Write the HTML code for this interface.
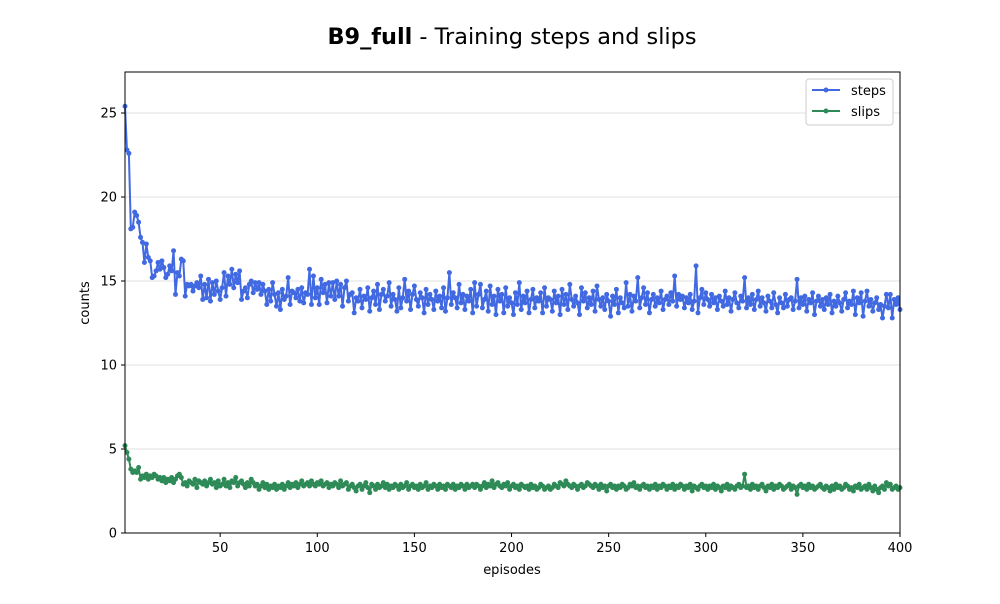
<!DOCTYPE html>
<html><head><meta charset="utf-8"><style>
body{margin:0;background:#fff;font-family:"DejaVu Sans",sans-serif}
svg text{font-family:"DejaVu Sans",sans-serif}
</style></head><body>
<svg id="chart" width="1000" height="600" xmlns="http://www.w3.org/2000/svg">
<text x="512" y="44" text-anchor="middle" font-size="22.4"><tspan font-weight="bold">B9_full</tspan> - Training steps and slips</text>
<g id="grid"></g><g id="series"></g><g id="axes"></g>
<text x="512" y="574" text-anchor="middle" font-size="13">episodes</text>
<text transform="translate(89,303) rotate(-90)" text-anchor="middle" font-size="13">counts</text>
<g>
<rect x="806" y="79" width="87" height="46" fill="#fff" stroke="#ccc" rx="3"/>
<g><line x1="812" y1="90" x2="840" y2="90" stroke="#4169e1" stroke-width="2"/><circle cx="826" cy="90" r="2.5" fill="#4169e1"/><text x="851" y="95" font-size="13">steps</text></g>
<g><line x1="812" y1="111" x2="840" y2="111" stroke="#2e8b57" stroke-width="2"/><circle cx="826" cy="111" r="2.5" fill="#2e8b57"/><text x="851" y="116" font-size="13">slips</text></g>
</g>
</svg>
<script>
const steps=[25.4,22.8,22.6,18.1,18.2,19.1,18.9,18.5,17.6,17.3,16.1,17.2,16.4,16.2,15.2,15.3,15.6,16.1,15.7,16.2,
15.8,15.2,15.4,15.9,15.6,16.8,14.2,15.5,15.3,16.3,16.2,14.1,14.8,14.7,14.8,14.4,14.7,14.9,14.6,15.3,
13.9,14.8,14.0,15.1,13.8,14.9,14.2,15.0,14.4,13.9,14.6,15.5,14.1,15.3,14.8,15.7,14.6,15.4,14.9,15.6,
13.9,14.4,14.6,14.0,14.8,15.0,14.3,14.9,14.5,14.9,14.2,14.8,14.4,13.6,14.5,13.8,14.9,14.2,13.5,14.3,
13.3,14.5,13.9,14.1,15.2,13.6,14.4,14.3,14.0,14.5,13.8,14.6,13.7,14.3,14.2,15.7,13.6,15.3,14.0,14.6,
13.6,15.1,14.3,14.8,13.7,14.9,14.1,14.9,13.9,15.0,14.1,14.8,13.5,14.6,15.0,13.8,14.2,14.3,13.1,14.0,
13.8,14.5,13.4,14.1,13.9,14.6,13.2,14.0,14.4,13.6,14.8,13.3,14.2,14.5,13.8,14.1,14.9,13.5,14.2,13.9,
13.2,14.6,13.4,14.0,15.1,13.8,14.4,13.3,14.2,14.7,13.9,13.5,14.3,14.0,13.1,14.5,13.6,14.2,13.9,13.3,
14.4,13.8,14.1,13.4,14.6,13.2,14.0,15.5,13.6,14.3,14.0,13.4,14.8,13.7,14.2,13.3,14.1,13.8,14.5,13.1,
14.9,13.5,14.2,14.8,13.4,13.9,14.4,13.2,14.7,13.6,14.1,13.0,14.5,13.8,14.2,13.1,14.6,13.5,14.0,13.7,
13.0,14.3,13.6,14.9,13.3,14.1,13.7,14.4,13.1,13.9,14.5,13.4,14.0,13.8,14.3,13.1,14.6,13.5,14.0,13.9,
13.2,14.4,13.7,14.1,13.0,14.5,13.6,14.2,13.3,14.8,13.9,13.5,14.1,13.7,13.0,14.6,13.8,14.3,13.4,14.0,
13.6,14.4,13.2,14.7,13.9,13.5,14.0,13.3,14.2,13.8,12.9,14.1,13.6,14.5,13.1,14.0,13.7,13.4,14.9,13.5,
14.2,13.2,14.1,13.8,15.2,13.4,14.0,14.6,13.6,14.3,13.1,13.9,14.2,13.5,14.0,13.7,14.4,13.3,13.9,14.1,
13.6,14.3,13.8,15.3,13.5,14.2,13.9,14.1,13.4,14.0,13.7,14.2,13.3,13.8,15.9,13.1,14.0,14.5,13.6,14.3,
13.9,13.5,14.2,13.7,14.0,13.3,14.1,13.8,13.5,14.4,13.6,14.0,13.2,13.9,14.3,13.7,13.4,14.1,13.8,15.2,
13.4,14.0,13.6,14.2,13.3,13.9,14.4,13.5,14.0,13.7,13.2,14.1,13.8,13.4,14.3,13.6,13.1,14.0,13.7,13.4,
14.2,13.5,13.9,14.0,13.3,13.8,15.1,13.4,14.0,13.6,14.1,13.2,13.9,13.7,14.3,13.0,13.8,14.1,13.5,13.9,
13.3,14.0,13.6,14.2,13.1,13.8,13.5,14.1,13.7,13.2,13.9,14.3,13.4,13.8,13.6,14.4,13.0,14.0,13.7,14.3,
12.9,13.8,14.4,13.5,13.9,13.2,13.7,14.0,13.3,13.6,12.8,13.5,14.2,13.4,14.2,12.8,13.9,13.6,14.0,13.3];
const slips=[5.2,4.8,4.4,3.8,3.6,3.7,3.6,3.9,3.2,3.4,3.3,3.5,3.2,3.4,3.3,3.5,3.4,3.2,3.3,3.1,
3.3,3.0,3.2,3.1,3.3,3.0,3.2,3.4,3.5,3.3,2.9,3.0,2.8,3.1,3.0,2.9,3.2,2.7,3.1,3.0,
2.9,3.1,2.8,3.0,3.2,2.9,3.0,2.7,3.1,2.8,2.9,3.2,2.8,3.0,2.7,3.1,3.0,3.3,2.8,3.0,
3.1,2.9,2.7,3.0,2.8,3.2,3.0,2.8,2.9,2.6,2.8,3.0,2.7,2.9,2.6,2.8,2.7,2.9,2.6,2.8,
2.7,2.9,2.6,2.8,3.0,2.7,2.9,2.8,3.0,2.7,2.9,3.1,2.8,2.9,3.0,2.8,3.1,2.9,2.8,3.0,
2.9,3.1,2.8,2.9,3.0,2.7,2.9,2.8,3.0,2.9,2.7,3.1,2.8,2.9,3.0,2.6,2.8,2.9,2.7,2.5,
2.8,2.9,2.6,2.8,3.0,2.7,2.4,2.9,2.8,2.6,2.9,2.7,2.8,3.0,2.7,2.9,2.6,2.8,2.7,2.9,
2.8,2.6,2.9,2.7,2.8,3.0,2.6,2.8,2.9,2.7,2.8,2.6,2.9,2.7,2.8,3.0,2.6,2.8,2.7,2.9,
2.8,2.6,2.9,2.7,2.8,2.6,2.9,2.8,2.7,2.9,2.6,2.8,2.7,2.9,2.8,2.6,2.9,2.7,2.8,2.9,
2.7,2.9,2.8,2.6,2.8,3.0,2.7,2.9,2.8,3.1,2.7,2.9,3.0,2.8,2.7,2.9,2.8,3.0,2.6,2.8,
2.9,2.7,2.8,2.6,2.9,2.8,2.7,2.8,2.6,2.9,2.7,2.8,2.6,2.7,2.9,2.8,2.6,2.7,2.8,2.6,
2.7,2.9,2.8,2.7,3.0,2.9,2.8,3.1,2.9,2.8,2.7,2.9,2.8,2.6,2.8,2.9,2.7,2.8,3.0,2.9,
2.8,2.7,2.9,2.8,2.6,2.9,2.7,2.8,2.5,2.8,2.9,2.7,2.8,2.6,2.8,2.7,2.9,2.8,2.6,2.7,
2.9,2.8,3.0,2.7,2.8,2.6,2.8,2.9,2.7,2.8,2.6,2.8,2.7,2.9,2.6,2.8,2.7,2.9,2.8,2.6,
2.8,2.7,2.9,2.6,2.8,2.7,2.9,2.8,2.6,2.8,2.7,2.9,2.5,2.8,2.7,2.6,2.8,2.9,2.7,2.8,
2.6,2.8,2.7,2.9,2.6,2.8,2.7,2.5,2.8,2.7,2.9,2.6,2.8,2.7,2.6,2.8,2.9,2.7,2.8,3.5,
2.7,2.8,2.6,2.9,2.7,2.8,2.6,2.8,2.9,2.7,2.5,2.8,2.7,2.9,2.6,2.8,2.7,2.9,2.8,2.6,
2.7,2.8,2.9,2.6,2.8,2.7,2.3,2.8,2.9,2.7,2.8,2.6,2.9,2.7,2.8,2.6,2.7,2.8,2.9,2.7,
2.6,2.8,2.7,2.5,2.8,2.6,2.9,2.7,2.8,2.6,2.7,2.9,2.8,2.6,2.7,2.5,2.8,2.7,2.9,2.6,
2.7,2.8,2.6,2.9,2.7,2.5,2.8,2.6,2.4,2.7,2.8,2.6,3.0,2.8,2.9,2.6,2.7,2.8,2.6,2.7];
const xTicks=[50,100,150,200,250,300,350,400];
const yTicks=[0,5,10,15,20,25];
const NS="http://www.w3.org/2000/svg";
const L=125,R=900,T=72,B=533,xMin=1,xMax=400,yMax=27.44;
const sx=v=>L+(v-xMin)/(xMax-xMin)*(R-L);
const sy=v=>B-v/yMax*(B-T);
function mk(tag,attrs,parent){const e=document.createElementNS(NS,tag);for(const k in attrs)e.setAttribute(k,attrs[k]);parent.appendChild(e);return e;}
const grid=document.getElementById('grid'),axes=document.getElementById('axes'),ser=document.getElementById('series');
yTicks.forEach(v=>{
 if(v>0){const g=mk('line',{x1:L,x2:R,y1:sy(v),y2:sy(v),stroke:'#e6e6e6','stroke-width':1.2},grid);
 
 }
 const t=mk('line',{x1:L-4,x2:L,y1:sy(v),y2:sy(v),stroke:'#000'},axes);
 
 
 const tx=mk('text',{x:L-8,y:sy(v)+4.5,'text-anchor':'end','font-size':13},axes);tx.textContent=v;
 
 
});
xTicks.forEach(v=>{
 const t=mk('line',{x1:sx(v),x2:sx(v),y1:B,y2:B+4,stroke:'#000'},axes);
 
 
 const tx=mk('text',{x:sx(v),y:B+19,'text-anchor':'middle','font-size':13},axes);tx.textContent=v;
 
 
});
const frame=mk('rect',{x:L,y:T,width:R-L,height:B-T,fill:'none',stroke:'#000','stroke-width':1},axes);


function drawSeries(arr,color,name){
 const g=mk('g',{},ser);
 
 
 const pts=arr.map((v,i)=>sx(i+1).toFixed(2)+','+sy(v).toFixed(2)).join(' ');
 const pl=mk('polyline',{points:pts,fill:'none',stroke:color,'stroke-width':2,'stroke-linejoin':'round'},g);
 
 
 arr.forEach((v,i)=>{const c=mk('circle',{cx:sx(i+1),cy:sy(v),r:2.5,fill:color},g);
 
 });
}
drawSeries(steps,'#4169e1','steps');
drawSeries(slips,'#2e8b57','slips');
</script>
</body></html>
